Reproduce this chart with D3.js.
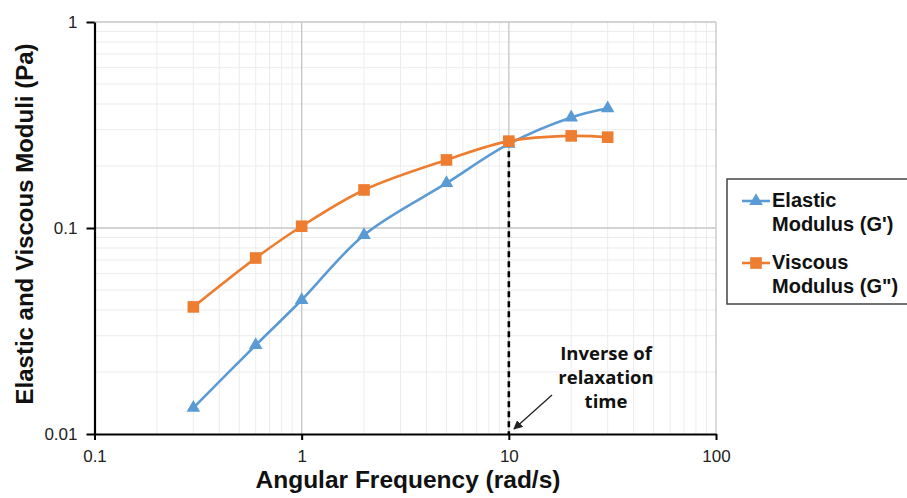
<!DOCTYPE html>
<html>
<head>
<meta charset="utf-8">
<script src="https://cdn.jsdelivr.net/npm/d3@7"></script>
<style>
  body { margin: 0; background: #fff; }
  svg { display: block; font-family: "Liberation Sans", Arial, sans-serif; }
</style>
</head>
<body>
<svg width="907" height="498"></svg>
<script>
// data
let freq = [0.3, 0.6, 1, 2, 5, 10, 20, 30];
let elastic = [0.0134, 0.027, 0.0447, 0.0925, 0.165, 0.256, 0.344, 0.381];
let viscous = [0.0414, 0.0715, 0.102, 0.153, 0.214, 0.264, 0.280, 0.276];
let xTicks = [0.1, 1, 10, 100];
let yTicks = [0.01, 0.1, 1];
let crossover = 10;

let blue = "#5b9bd5", orange = "#ed7d31";
let plotLeft = 94.5, plotRight = 716, plotTop = 22, plotBottom = 434;

let svg = d3.select("svg");

let x = d3.scaleLog().domain([0.1, 100]).range([plotLeft, plotRight]);
let y = d3.scaleLog().domain([0.01, 1]).range([plotBottom, plotTop]);

// minor grid
let minorX = [], minorY = [];
[0.1, 1, 10].forEach(d => { for (let k = 2; k <= 9; k++) minorX.push(d * k); });
[0.01, 0.1].forEach(d => { for (let k = 2; k <= 9; k++) minorY.push(d * k); });

let grid = svg.append("g");
grid.selectAll(".mx").data(minorX).enter().append("line")
    .attr("x1", d => x(d)).attr("x2", d => x(d))
    .attr("y1", plotTop).attr("y2", plotBottom)
    .attr("stroke", "#ececec").attr("stroke-width", 1);
grid.selectAll(".my").data(minorY).enter().append("line")
    .attr("x1", plotLeft).attr("x2", plotRight)
    .attr("y1", d => y(d)).attr("y2", d => y(d))
    .attr("stroke", "#ececec").attr("stroke-width", 1);
grid.selectAll(".gx").data(xTicks.slice(1)).enter().append("line")
    .attr("x1", d => x(d)).attr("x2", d => x(d))
    .attr("y1", plotTop).attr("y2", plotBottom)
    .attr("stroke", "#c6c6c6").attr("stroke-width", 1.3);
grid.selectAll(".gy").data(yTicks.slice(1)).enter().append("line")
    .attr("x1", plotLeft).attr("x2", plotRight)
    .attr("y1", d => y(d)).attr("y2", d => y(d))
    .attr("stroke", "#c6c6c6").attr("stroke-width", 1.3);

// axes
let xAxis = svg.append("g")
    .attr("transform", "translate(0," + plotBottom + ")")
    .call(d3.axisBottom(x).tickValues(xTicks).tickFormat(d3.format("~g")).tickSize(6).tickSizeOuter(0));
let yAxis = svg.append("g")
    .attr("transform", "translate(" + plotLeft + ",0)")
    .call(d3.axisLeft(y).tickValues(yTicks).tickFormat(d3.format("~g")).tickSize(8).tickSizeOuter(0));
[xAxis, yAxis].forEach(a => {
  a.select(".domain").attr("stroke", "#000").attr("stroke-width", 2.2);
  a.selectAll(".tick line").attr("stroke", "#000").attr("stroke-width", 2);
  a.selectAll(".tick text").attr("fill", "#222").style("font-size", "17px")
      .style("font-family", "Liberation Sans, Arial, sans-serif");
});
xAxis.selectAll(".tick text").attr("y", 28).attr("dy", 0);
yAxis.selectAll(".tick text").attr("x", -17).attr("dy", "0.35em");

// dashed crossover line
svg.append("line")
    .attr("x1", x(crossover)).attr("x2", x(crossover))
    .attr("y1", y(viscous[freq.indexOf(crossover)])).attr("y2", plotBottom)
    .attr("stroke", "#000").attr("stroke-width", 2.6)
    .attr("stroke-dasharray", "6,4");

// series
let line = d3.line().curve(d3.curveCatmullRom.alpha(0.5));
let series = [
  {vals: elastic, color: blue, shape: d3.symbolTriangle, size: 80},
  {vals: viscous, color: orange, shape: d3.symbolSquare, size: 135}
];
series.forEach(s => {
  svg.append("path")
      .attr("d", line(freq.map((f, i) => [x(f), y(s.vals[i])])))
      .attr("fill", "none").attr("stroke", s.color).attr("stroke-width", 2.6);
});
series.forEach(s => {
  svg.append("g").selectAll("path").data(freq).enter().append("path")
      .attr("transform", (f, i) => "translate(" + x(f) + "," + y(s.vals[i]) + ")")
      .attr("d", d3.symbol().type(s.shape).size(s.size))
      .attr("fill", s.color);
});

// annotation
let note = svg.append("text")
    .attr("text-anchor", "middle")
    .style("font-family", "Open Sans, Noto Sans, sans-serif")
    .style("font-weight", "bold").style("font-size", "18.5px").attr("fill", "#111");
["Inverse of", "relaxation", "time"].forEach((t, i) => {
  note.append("tspan").attr("x", 606).attr("y", 360 + i * 24).text(t);
});
svg.append("defs").append("marker")
    .attr("id", "arr").attr("viewBox", "0 0 10 10").attr("refX", 9).attr("refY", 5)
    .attr("markerWidth", 7).attr("markerHeight", 7).attr("orient", "auto")
    .append("path").attr("d", "M0,0 L10,5 L0,10 z").attr("fill", "#222");
svg.append("line")
    .attr("x1", 552).attr("y1", 395).attr("x2", 514).attr("y2", 429)
    .attr("stroke", "#222").attr("stroke-width", 1.3)
    .attr("marker-end", "url(#arr)");

// axis titles
svg.append("text")
    .attr("x", 408).attr("y", 488)
    .attr("text-anchor", "middle")
    .style("font-weight", "bold").style("font-size", "24.5px").attr("fill", "#111")
    .text("Angular Frequency (rad/s)");
svg.append("text")
    .attr("transform", "translate(33,224) rotate(-90)")
    .attr("text-anchor", "middle")
    .style("font-weight", "bold").style("font-size", "24px").attr("fill", "#111")
    .text("Elastic and Viscous Moduli (Pa)");

// legend
let lg = svg.append("g");
lg.append("rect").attr("x", 727).attr("y", 179).attr("width", 190).attr("height", 125)
    .attr("fill", "#fff").attr("stroke", "#444").attr("stroke-width", 1.5);
let legendItems = [
  {lines: ["Elastic", "Modulus (G')"], s: series[0], cy: 201},
  {lines: ["Viscous", "Modulus (G\")"], s: series[1], cy: 263}
];
legendItems.forEach(it => {
  lg.append("line").attr("x1", 742).attr("x2", 770).attr("y1", it.cy).attr("y2", it.cy)
      .attr("stroke", it.s.color).attr("stroke-width", 2.6);
  lg.append("path").attr("transform", "translate(756," + it.cy + ")")
      .attr("d", d3.symbol().type(it.s.shape).size(it.s.size)).attr("fill", it.s.color);
  it.lines.forEach((t, i) => {
    lg.append("text").attr("x", 772).attr("y", it.cy + 5.5 + i * 24.5)
        .style("font-weight", "bold").style("font-size", "20px").attr("fill", "#111")
        .text(t);
  });
});
</script>
</body>
</html>
